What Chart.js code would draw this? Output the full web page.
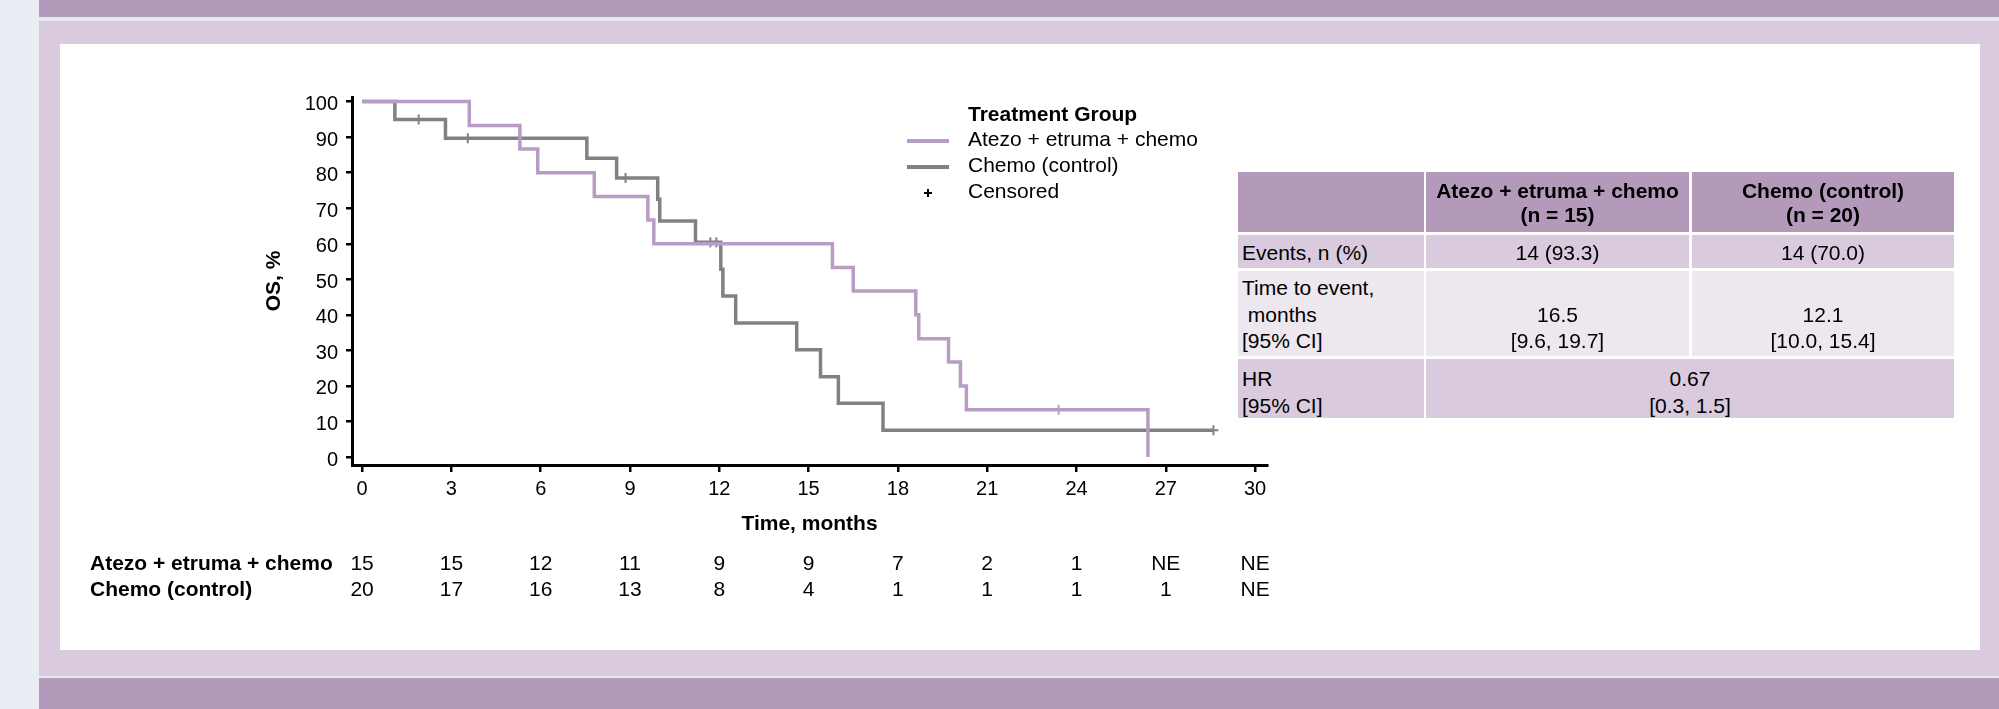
<!DOCTYPE html>
<html>
<head>
<meta charset="utf-8">
<script src="https://cdn.jsdelivr.net/npm/chart.js@4.4.0/dist/chart.umd.min.js"></script>
<style>
  body { margin:0; width:1999px; height:709px; overflow:hidden; background:#e9eef5;
         font-family:'Liberation Sans', Arial, sans-serif; color:#000; position:relative; }
  .abs { position:absolute; }
  #chart { position:absolute; left:0; top:0; }
  .cell { position:absolute; box-sizing:border-box; display:flex; font-size:21px; }
  .txt { position:absolute; font-size:21px; line-height:24px; white-space:nowrap; }
</style>
</head>
<body>
<div class="abs" style="left:39px;top:0;width:1960px;height:17px;background:#b399ba"></div>
<div class="abs" style="left:39px;top:17px;width:1960px;height:4px;background:#e5e7f0"></div>
<div class="abs" style="left:39px;top:21px;width:1960px;height:655px;background:#d9cadd"></div>
<div class="abs" style="left:39px;top:676px;width:1960px;height:2px;background:#e5e7f0"></div>
<div class="abs" style="left:39px;top:678px;width:1960px;height:31px;background:#b399ba"></div>
<div class="abs" style="left:60px;top:44px;width:1920px;height:606px;background:#fff"></div>
<canvas id="chart" width="1999" height="709"></canvas>
<div id="overlay"></div>
<script>
// number at risk
const riskTimes = [0, 3, 6, 9, 12, 15, 18, 21, 24, 27, 30];
const atezoAtRisk = ['15', '15', '12', '11', '9', '9', '7', '2', '1', 'NE', 'NE'];
const chemoAtRisk = ['20', '17', '16', '13', '8', '4', '1', '1', '1', '1', 'NE'];
const groupNames = ['Atezo + etruma + chemo', 'Chemo (control)'];

// KM steps
const atezoTime = [0, 3.6, 5.3, 5.9, 7.8, 9.6, 9.8, 15.8, 16.5, 18.6, 18.7, 19.7, 20.1, 20.3, 26.4];
const atezoSurv = [100, 93.3, 86.7, 80.0, 73.3, 66.7, 60.0, 53.3, 46.7, 40.0, 33.3, 26.7, 20.0, 13.3, 0];
const atezoCensTime = [23.4];
const atezoCensSurv = [13.3];

const chemoTime = [0, 1.1, 2.8, 7.55, 8.55, 9.93, 10.0, 11.2, 12.05, 12.12, 12.55, 14.6, 15.4, 16.0, 17.5, 28.6];
const chemoSurv = [100, 95.0, 89.7, 84.1, 78.5, 72.5, 66.4, 60.4, 52.8, 45.3, 37.7, 30.2, 22.6, 15.1, 7.5, 7.5];
const chemoCensTime = [1.9, 3.55, 8.85, 11.7, 11.9, 28.6];
const chemoCensSurv = [95.0, 89.7, 78.5, 60.4, 60.4, 7.5];

const xTicks = [0, 3, 6, 9, 12, 15, 18, 21, 24, 27, 30];
const yTicks = [0, 10, 20, 30, 40, 50, 60, 70, 80, 90, 100];

// summary table
const statHeaders = ['Atezo + etruma + chemo<br>(n = 15)', 'Chemo (control)<br>(n = 20)'];
const statLabels = ['Events, n (%)', 'Time to event,<br>&nbsp;months<br>[95% CI]', 'HR<br>[95% CI]'];
const atezoStats = ['14 (93.3)', '16.5<br>[9.6, 19.7]'];
const chemoStats = ['14 (70.0)', '12.1<br>[10.0, 15.4]'];
const hrStat = '0.67<br>[0.3, 1.5]';

const purple = '#b89cc3';
const grey = '#818181';

function pts(xs, ys) { return xs.map((x, i) => ({x: x, y: ys[i]})); }

Chart.defaults.font.family = "'Liberation Sans', Arial, sans-serif";
Chart.defaults.color = '#000';

const chart = new Chart(document.getElementById('chart'), {
  type: 'line',
  data: {
    datasets: [
      { label: groupNames[0], data: pts(atezoTime, atezoSurv), stepped: true,
        borderColor: purple, borderWidth: 3.5, pointRadius: 0, fill: false },
      { label: groupNames[1], data: pts(chemoTime, chemoSurv), stepped: true,
        borderColor: grey, borderWidth: 3.5, pointRadius: 0, fill: false },
      { label: 'cens1', data: pts(atezoCensTime, atezoCensSurv), showLine: false,
        pointStyle: 'cross', pointRadius: 5, borderColor: purple, pointBorderWidth: 2 },
      { label: 'cens2', data: pts(chemoCensTime, chemoCensSurv), showLine: false,
        pointStyle: 'cross', pointRadius: 5, borderColor: grey, pointBorderWidth: 2 }
    ]
  },
  options: {
    responsive: false,
    animation: false,
    layout: { padding: { left: 257, top: 97, right: 732, bottom: 172 } },
    plugins: { legend: { display: false }, tooltip: { enabled: false } },
    scales: {
      x: {
        type: 'linear', min: -0.34, max: 30.4,
        afterBuildTicks: s => { s.ticks = xTicks.map(v => ({value: v})); },
        afterFit: s => { s.height = 72; },
        grid: { drawOnChartArea: false, drawTicks: true, tickLength: 7, color: '#000', lineWidth: 2.5 },
        border: { display: true, color: '#000', width: 3 },
        ticks: { font: { size: 20 }, padding: 5, maxRotation: 0 },
        title: { display: true, text: 'Time, months', font: { size: 21, weight: 'bold' }, padding: { top: 0, bottom: 0 } }
      },
      y: {
        type: 'linear', min: -2.25, max: 101.3,
        afterBuildTicks: s => { s.ticks = yTicks.map(v => ({value: v})); },
        afterFit: s => { s.width = 95; },
        grid: { drawOnChartArea: false, drawTicks: true, tickLength: 6, color: '#000', lineWidth: 2.5 },
        border: { display: true, color: '#000', width: 3 },
        ticks: { font: { size: 20 }, padding: 8, labelOffset: 3 },
        title: { display: true, text: 'OS, %', font: { size: 21, weight: 'bold' }, padding: { top: 5, bottom: 0 } }
      }
    }
  }
});

const ov = document.getElementById('overlay');
function add(html) { ov.insertAdjacentHTML('beforeend', html); }

// legend
add('<div class="txt" style="left:968px;top:102px;font-weight:bold">Treatment Group</div>');
add('<div class="abs" style="left:907px;top:139px;width:42px;height:4px;background:' + purple + '"></div>');
add('<div class="txt" style="left:968px;top:127px">' + groupNames[0] + '</div>');
add('<div class="abs" style="left:907px;top:165px;width:42px;height:4px;background:' + grey + '"></div>');
add('<div class="txt" style="left:968px;top:153px">' + groupNames[1] + '</div>');
add('<div class="abs" style="left:924px;top:192px;width:8px;height:2px;background:#000"></div>');
add('<div class="abs" style="left:927px;top:189px;width:2px;height:8px;background:#000"></div>');
add('<div class="txt" style="left:968px;top:179px">Censored</div>');

// number at risk table, placed with the x scale
const xs = chart.scales.x;
add('<div class="txt" style="left:90px;top:551px;font-weight:bold">' + groupNames[0] + '</div>');
add('<div class="txt" style="left:90px;top:577px;font-weight:bold">' + groupNames[1] + '</div>');
riskTimes.forEach((t, i) => {
  const px = xs.getPixelForValue(t);
  add('<div class="txt" style="left:' + (px - 40) + 'px;width:80px;text-align:center;top:551px">' + atezoAtRisk[i] + '</div>');
  add('<div class="txt" style="left:' + (px - 40) + 'px;width:80px;text-align:center;top:577px">' + chemoAtRisk[i] + '</div>');
});

// summary table
function cell(x, y, w, h, bg, html, opts) {
  opts = opts || {};
  const st = 'left:' + x + 'px;top:' + y + 'px;width:' + w + 'px;height:' + h + 'px;background:' + bg + ';' +
    'justify-content:' + (opts.left ? 'flex-start' : 'center') + ';' +
    'align-items:' + (opts.v || 'center') + ';' +
    'text-align:' + (opts.left ? 'left' : 'center') + ';' +
    'padding:' + (opts.pad || '0') + ';' +
    'line-height:' + (opts.lh || 23.3) + 'px;' + (opts.bold ? 'font-weight:bold;' : '');
  add('<div class="cell" style="' + st + '"><div>' + html + '</div></div>');
}
const hdr = '#b399ba', mid = '#d9cadd', light = '#ede7f0';
const cx = [1238, 1426, 1692], cw = [186, 263, 262];
cell(cx[0], 172, cw[0], 60, hdr, '');
cell(cx[1], 172, cw[1], 60, hdr, statHeaders[0], { bold: true, pad: '1px 0 0 0' });
cell(cx[2], 172, cw[2], 60, hdr, statHeaders[1], { bold: true, pad: '1px 0 0 0' });
cell(cx[0], 235, cw[0], 33, mid, statLabels[0], { left: true, pad: '3px 0 0 4px', lh: 24 });
cell(cx[1], 235, cw[1], 33, mid, atezoStats[0], { pad: '3px 0 0 0', lh: 24 });
cell(cx[2], 235, cw[2], 33, mid, chemoStats[0], { pad: '3px 0 0 0', lh: 24 });
cell(cx[0], 271, cw[0], 85, light, statLabels[1], { left: true, v: 'flex-end', pad: '0 0 1px 4px', lh: 26.7 });
cell(cx[1], 271, cw[1], 85, light, atezoStats[1], { v: 'flex-end', pad: '0 0 1px 0', lh: 26.7 });
cell(cx[2], 271, cw[2], 85, light, chemoStats[1], { v: 'flex-end', pad: '0 0 1px 0', lh: 26.7 });
cell(cx[0], 359, cw[0], 59, mid, statLabels[2], { left: true, pad: '6px 0 0 4px', lh: 27 });
cell(cx[1], 359, cw[1] + 3 + cw[2], 59, mid, hrStat, { pad: '6px 0 0 0', lh: 27 });
</script>
</body>
</html>
